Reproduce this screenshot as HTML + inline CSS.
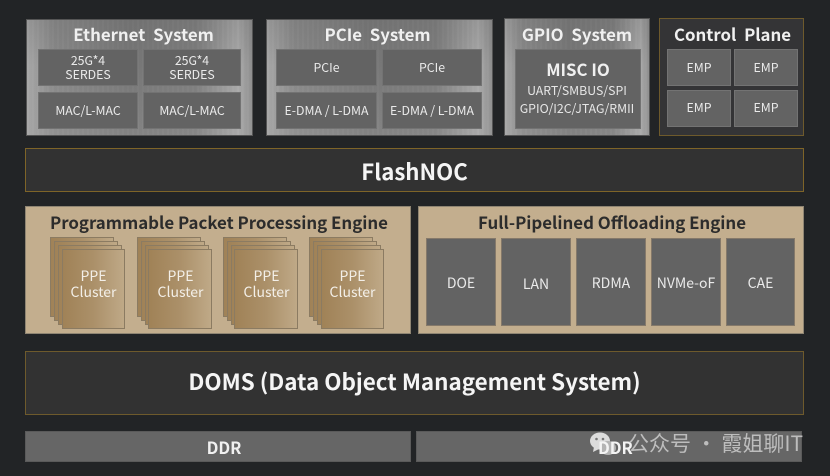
<!DOCTYPE html>
<html><head><meta charset="utf-8">
<style>
html,body{margin:0;padding:0;background:#222426;}
#p{position:relative;width:830px;height:476px;overflow:hidden;background:#222426;font-family:"Noto Sans CJK SC","Liberation Sans",sans-serif;color:#eee;}
#p div{position:absolute;box-sizing:border-box;}
.t{text-align:center;white-space:nowrap;}
.metal{background:linear-gradient(90deg,#a8a8a8 0,#8a8a8a 12%,#777 45%,#7d7d7d 75%,#ababab 94%,#8f8f8f 100%);border:1px solid #555;}
.metal2{position:absolute;left:0;top:0;right:0;bottom:0;background:repeating-linear-gradient(90deg,rgba(255,255,255,.015) 0,rgba(255,255,255,.015) 2px,rgba(0,0,0,.012) 2px,rgba(0,0,0,.012) 5px),linear-gradient(180deg,rgba(100,100,100,.25) 0,rgba(110,110,110,0) 40%,rgba(170,170,170,.25) 100%);}
.h{font-size:16.8px;font-weight:700;color:#f0f0f0;word-spacing:4px;line-height:20px;}
.b{background:#636363;border:1px solid #737373;font-size:12.3px;color:#eaeaea;text-align:center;white-space:nowrap;display:flex;align-items:center;justify-content:center;line-height:14px;padding-bottom:2px;}
.dark{background:#323232;border:1px solid #6e5a2c;}
.tan{background:#c3ae8e;border:1px solid #8f8573;}
.s{background:linear-gradient(90deg,#a08257 0,#ab9069 50%,#bfa987 100%);border:1px solid #8b7b62;}
.o{background:#636363;border:1px solid #85796a;font-size:14px;color:#eaeaea;display:flex;align-items:center;justify-content:center;padding-top:2px;}
.pt{color:#f3efe8;font-size:14px;line-height:16px;text-align:center;}
</style></head><body><div id="p">

<!-- Ethernet -->
<div class="metal" style="left:26px;top:19px;width:227px;height:117px;"><div class="metal2"></div></div>
<div class="t h" style="left:30px;top:24px;width:227px;">Ethernet System</div>
<div class="b" style="left:38px;top:49px;width:100px;height:37px;">25G*4<br>SERDES</div>
<div class="b" style="left:143px;top:49px;width:98px;height:37px;">25G*4<br>SERDES</div>
<div class="b" style="left:38px;top:92px;width:100px;height:37px;">MAC/L-MAC</div>
<div class="b" style="left:143px;top:92px;width:98px;height:37px;">MAC/L-MAC</div>

<!-- PCIe -->
<div class="metal" style="left:266px;top:19px;width:227px;height:117px;"><div class="metal2"></div></div>
<div class="t h" style="left:264px;top:24px;width:227px;">PCIe System</div>
<div class="b" style="left:276px;top:49px;width:101px;height:37px;">PCIe</div>
<div class="b" style="left:382px;top:49px;width:100px;height:37px;">PCIe</div>
<div class="b" style="left:276px;top:92px;width:101px;height:37px;">E-DMA / L-DMA</div>
<div class="b" style="left:382px;top:92px;width:100px;height:37px;">E-DMA / L-DMA</div>

<!-- GPIO -->
<div class="metal" style="left:504px;top:18px;width:146px;height:118px;"><div class="metal2"></div></div>
<div class="t h" style="left:504px;top:24px;width:146px;">GPIO System</div>
<div class="b" style="left:515px;top:49px;width:126px;height:80px;"></div>
<div class="t" style="left:515px;top:58px;width:126px;font-size:16.8px;font-weight:700;line-height:22px;color:#f0f0f0;">MISC IO</div>
<div class="t" style="left:514px;top:81px;width:126px;font-size:12.3px;line-height:18px;color:#e6e6e6;">UART/SMBUS/SPI<br>GPIO/I2C/JTAG/RMII</div>

<!-- Control Plane -->
<div class="dark" style="left:659px;top:18px;width:145px;height:118px;background:#343436;"></div>
<div class="t h" style="left:660px;top:24px;width:145px;">Control Plane</div>
<div class="b" style="left:667px;top:49px;width:64px;height:37px;">EMP</div>
<div class="b" style="left:734px;top:49px;width:64px;height:37px;">EMP</div>
<div class="b" style="left:667px;top:90px;width:64px;height:37px;padding-bottom:4px;">EMP</div>
<div class="b" style="left:734px;top:90px;width:64px;height:37px;padding-bottom:4px;">EMP</div>

<!-- FlashNOC -->
<div class="dark" style="left:25px;top:148px;width:779px;height:44px;border-color:#7e6428;"></div>
<div class="t" style="left:25px;top:156px;width:779px;font-size:22.2px;font-weight:700;line-height:30px;color:#f5f5f5;">FlashNOC</div>

<!-- PPE Panel -->
<div class="tan" style="left:25px;top:206px;width:386px;height:128px;"></div>
<div class="t" style="left:26px;top:210px;width:386px;font-size:16.85px;font-weight:700;line-height:24px;color:#2c2c2c;">Programmable Packet Processing Engine</div>

<div class="s" style="left:50px;top:237px;width:64px;height:80px;"></div>
<div class="s" style="left:54px;top:241px;width:64px;height:80px;"></div>
<div class="s" style="left:58px;top:245px;width:64px;height:80px;"></div>
<div class="s" style="left:62px;top:249px;width:63px;height:80px;"></div>
<div class="pt" style="left:62px;top:268px;width:63px;">PPE<br>Cluster</div>

<div class="s" style="left:137px;top:237px;width:64px;height:80px;"></div>
<div class="s" style="left:141px;top:241px;width:64px;height:80px;"></div>
<div class="s" style="left:145px;top:245px;width:64px;height:80px;"></div>
<div class="s" style="left:148px;top:249px;width:64px;height:80px;"></div>
<div class="pt" style="left:149px;top:268px;width:63px;">PPE<br>Cluster</div>

<div class="s" style="left:223px;top:237px;width:64px;height:80px;"></div>
<div class="s" style="left:227px;top:241px;width:64px;height:80px;"></div>
<div class="s" style="left:231px;top:245px;width:64px;height:80px;"></div>
<div class="s" style="left:234px;top:249px;width:64px;height:80px;"></div>
<div class="pt" style="left:235px;top:268px;width:63px;">PPE<br>Cluster</div>

<div class="s" style="left:309px;top:237px;width:64px;height:80px;"></div>
<div class="s" style="left:313px;top:241px;width:64px;height:80px;"></div>
<div class="s" style="left:317px;top:245px;width:64px;height:80px;"></div>
<div class="s" style="left:321px;top:249px;width:63px;height:80px;"></div>
<div class="pt" style="left:321px;top:268px;width:63px;">PPE<br>Cluster</div>

<!-- Offload Panel -->
<div class="tan" style="left:418px;top:206px;width:386px;height:128px;"></div>
<div class="t" style="left:419px;top:210px;width:386px;font-size:16.85px;font-weight:700;line-height:24px;color:#2c2c2c;">Full-Pipelined Offloading Engine</div>
<div class="o" style="left:426px;top:238px;width:70px;height:88px;">DOE</div>
<div class="o" style="left:501px;top:238px;width:70px;height:88px;padding-top:4px;">LAN</div>
<div class="o" style="left:576px;top:238px;width:70px;height:88px;">RDMA</div>
<div class="o" style="left:651px;top:238px;width:70px;height:88px;">NVMe-oF</div>
<div class="o" style="left:726px;top:238px;width:69px;height:88px;">CAE</div>

<!-- DOMS -->
<div class="dark" style="left:25px;top:351px;width:779px;height:64px;"></div>
<div class="t" style="left:25px;top:365px;width:779px;font-size:22.4px;font-weight:700;line-height:32px;color:#f5f5f5;">DOMS (Data Object Management System)</div>

<!-- DDR -->
<div style="left:25px;top:431px;width:386px;height:31px;background:#666;border:1px solid #5a5a5a;"></div>
<div class="t" style="left:31px;top:436px;width:386px;font-size:16.5px;font-weight:700;line-height:22px;color:#f0f0f0;">DDR</div>
<div style="left:416px;top:431px;width:386px;height:31px;background:#666;border:1px solid #5a5a5a;"></div>

<!-- Watermark -->
<svg style="position:absolute;left:589px;top:431px;" width="36" height="26" viewBox="0 0 36 26">
<ellipse cx="11" cy="10" rx="10" ry="8.5" fill="#dcdcdc"/>
<path d="M5 16 L4 21 L10 18Z" fill="#dcdcdc"/>
<ellipse cx="19" cy="17" rx="8" ry="7" fill="#b4b4b4"/>
<circle cx="7.5" cy="8" r="1.3" fill="#777"/><circle cx="14" cy="8" r="1.3" fill="#777"/>
</svg>
<div class="t" style="left:598px;top:436px;width:34px;font-size:16.5px;font-weight:700;line-height:22px;color:#f4f4f4;">DDR</div>
<div class="t" style="left:628px;top:429px;width:180px;text-align:left;font-size:21px;line-height:28px;color:#bdbdbd;">公众号 · 霞姐聊IT</div>

</div></body></html>
